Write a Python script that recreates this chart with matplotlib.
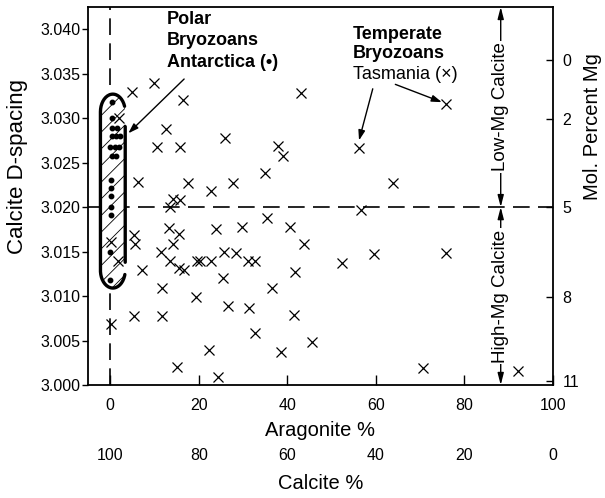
import numpy as np
import matplotlib
matplotlib.use("Agg")
import matplotlib.pyplot as plt

plt.rcParams['font.family'] = ['Liberation Sans', 'DejaVu Sans']
plt.rcParams['hatch.linewidth'] = 0.6

# polar bryozoans, Antarctica (dots)
polar_aragonite = [0.5, 0.4, 0.5, 1.5, 0.4, 1.3, 2.3, 0.0, 1.0, 1.9,
                   0.4, 1.3, 0.2, 0.2, 0.2, 0.2, 0.2, 0.0, 0.0]
polar_dspacing = [3.0318, 3.0300, 3.0289, 3.0289, 3.0280, 3.0280, 3.0280,
                  3.0268, 3.0268, 3.0268, 3.0258, 3.0258, 3.0230, 3.0222,
                  3.0213, 3.0200, 3.0191, 3.0150, 3.0118]

# temperate bryozoans, Tasmania (crosses)
temp_aragonite = [4.9, 9.8, 16.4, 43.2, 1.9, 12.6, 25.9, 10.5, 15.8, 37.8,
                  39.0, 34.9, 6.2, 17.6, 27.8, 22.7, 13.5, 14.3, 15.8, 35.5,
                  23.9, 29.7, 40.5, 13.3, 15.6, 5.3, 5.5, 14.3, 43.8, 0.3,
                  11.5, 25.7, 28.5, 1.7, 13.5, 15.6, 16.7, 19.5, 20.4, 22.7,
                  31.1, 32.7, 7.1, 41.7, 25.4, 11.8, 36.6, 19.3, 26.5, 31.3,
                  5.3, 11.6, 41.5, 0.2, 32.7, 45.6, 22.3, 38.5, 15.2, 24.3,
                  75.8, 56.1, 63.8, 56.7, 52.4, 59.5, 75.8, 70.7, 92.1]
temp_dspacing = [3.0329, 3.0339, 3.0320, 3.0328, 3.0300, 3.0288, 3.0278,
                 3.0268, 3.0268, 3.0269, 3.0258, 3.0238, 3.0228, 3.0227,
                 3.0227, 3.0218, 3.0200, 3.0209, 3.0208, 3.0188, 3.0175,
                 3.0178, 3.0178, 3.0177, 3.0170, 3.0169, 3.0159, 3.0159,
                 3.0158, 3.0161, 3.0150, 3.0150, 3.0148, 3.0139, 3.0139,
                 3.0131, 3.0129, 3.0139, 3.0139, 3.0139, 3.0139, 3.0139,
                 3.0129, 3.0127, 3.0120, 3.0109, 3.0109, 3.0099, 3.0089,
                 3.0087, 3.0078, 3.0078, 3.0079, 3.0069, 3.0059, 3.0048,
                 3.0039, 3.0037, 3.0020, 3.0009, 3.0316, 3.0267, 3.0227,
                 3.0197, 3.0137, 3.0147, 3.0148, 3.0019, 3.0016]

d_ticks = [3.000, 3.005, 3.010, 3.015, 3.020, 3.025, 3.030, 3.035, 3.040]
arag_ticks = [0, 20, 40, 60, 80, 100]
calc_ticks = [100, 80, 60, 40, 20, 0]
mg_labels = ['0', '2', '5', '8', '11']
mg_dspacing = [3.0365, 3.0299, 3.0200, 3.0099, 3.0005]

mg_boundary = 3.020   # low-Mg / high-Mg calcite boundary
split_x = 88.2        # where the Low/High-Mg arrows are drawn

fig = plt.figure(figsize=(6.05, 4.98), dpi=100)
ax = fig.add_axes([0.1455, 0.2269, 0.7685, 0.7591])
ax.set_xlim(-5, 100)
ax.set_ylim(3.000, 3.0425)

for s in ax.spines.values():
    s.set_linewidth(1.3)

# dashed guide lines
ax.axvline(0, color='k', lw=1.2, dashes=(10, 5), zorder=1)
ax.axhline(mg_boundary, color='k', lw=1.2, dashes=(10, 5), zorder=1)

# hatched outline round the polar samples
ac, hw = 0.6, 2.8
top = max(polar_dspacing) + 0.0009
bot = min(polar_dspacing) - 0.0009
cap = 0.002
t = np.linspace(0, np.pi, 40)
top_x = ac + hw * np.cos(t)
top_y = top - cap + cap * np.sin(t)
left_y = np.linspace(top - cap, bot + cap, 60)
left_x = np.full_like(left_y, ac - hw)
bot_x = ac - hw * np.cos(t)
bot_y = bot + cap - cap * np.sin(t)
right_y = np.linspace(bot + cap, top - cap, 120)
right_x = np.full_like(right_y, ac + hw)
ox = np.concatenate([top_x, left_x, bot_x, right_x])
oy = np.concatenate([top_y, left_y, bot_y, right_y])
ax.fill(ox, oy, facecolor='white', edgecolor='k', linewidth=0,
        hatch='//', zorder=2)
lx = ox.copy()
gap = ((ox > ac + hw * 0.8) & (oy > 3.0291) & (oy < 3.0312)) | \
      ((ox > ac + hw * 0.5) & (oy > 3.0125) & (oy < 3.0137))
lx[gap] = np.nan
ax.plot(lx, oy, color='k', lw=2.4, zorder=3, solid_capstyle='round')

ax.plot(polar_aragonite, polar_dspacing, 'o', color='k', ms=3.2,
        zorder=4, linestyle='none')
ax.plot(temp_aragonite, temp_dspacing, 'x', color='k', ms=7, mew=0.9,
        zorder=4, linestyle='none')

# low / high Mg calcite arrows
arr = dict(arrowstyle='<|-|>,head_length=0.7,head_width=0.18', color='k',
           lw=1.0, shrinkA=0, shrinkB=0)
ax.annotate('', xy=(split_x, 3.0425), xytext=(split_x, mg_boundary),
            arrowprops=arr, zorder=3)
ax.annotate('', xy=(split_x, mg_boundary), xytext=(split_x, 3.000),
            arrowprops=arr, zorder=3)
ax.text(split_x, (3.0425 + mg_boundary) / 2, 'Low-Mg Calcite', rotation=90,
        ha='center', va='center', fontsize=13.5,
        bbox=dict(fc='white', ec='none', pad=1), zorder=4)
ax.text(split_x, (3.000 + mg_boundary) / 2, 'High-Mg Calcite', rotation=90,
        ha='center', va='center', fontsize=13.5,
        bbox=dict(fc='white', ec='none', pad=1), zorder=4)

# labels with arrows
ax.text(12.8, 3.0421, 'Polar\nBryozoans\nAntarctica (•)', fontsize=13,
        fontweight='bold', ha='left', va='top', linespacing=1.35)
ax.annotate('', xy=(4.1, 3.0283), xytext=(16.7, 3.0344),
            arrowprops=dict(arrowstyle='-|>,head_length=0.6,head_width=0.2',
                            color='k', lw=1.0, shrinkA=0, shrinkB=0))
ax.text(54.8, 3.0404, 'Temperate\nBryozoans', fontsize=13,
        fontweight='bold', ha='left', va='top', linespacing=1.2)
ax.text(54.8, 3.0349, 'Tasmania (×)', fontsize=13, ha='left', va='center')
ax.annotate('', xy=(56.2, 3.0275), xytext=(59.3, 3.0333),
            arrowprops=dict(arrowstyle='-|>,head_length=0.6,head_width=0.2',
                            color='k', lw=1.0, shrinkA=0, shrinkB=0))
ax.annotate('', xy=(74.9, 3.0318), xytext=(64.4, 3.0338),
            arrowprops=dict(arrowstyle='-|>,head_length=0.6,head_width=0.2',
                            color='k', lw=1.0, shrinkA=0, shrinkB=0))

# axes, ticks and labels
ax.set_yticks(d_ticks)
ax.set_yticklabels([f'{v:.3f}' for v in d_ticks])
ax.set_xticks(arag_ticks)
ax.tick_params(axis='y', direction='out', length=4, width=1, labelsize=11.5,
               pad=1.5)
ax.tick_params(axis='x', direction='in', length=7, width=1, labelsize=11.5,
               pad=9)
ax.set_xlabel('Aragonite %', fontsize=14.5, labelpad=6)
ax.set_ylabel('Calcite D-spacing', fontsize=16)
ax.yaxis.set_label_coords(-0.129, 0.579)

ax2 = ax.twinx()
ax2.set_ylim(ax.get_ylim())
ax2.set_yticks(mg_dspacing)
ax2.set_yticklabels(mg_labels)
ax2.tick_params(axis='y', direction='in', length=5, width=1, labelsize=11.5,
                pad=7)
ax2.set_ylabel('Mol. Percent Mg', fontsize=14.5)
ax2.yaxis.set_label_coords(1.0645, 0.683)
for s in ax2.spines.values():
    s.set_visible(False)

sec = ax.secondary_xaxis(-0.155, functions=(lambda a: 100 - a,
                                             lambda c: 100 - c))
sec.set_xticks(calc_ticks)
sec.spines['bottom'].set_visible(False)
sec.tick_params(axis='x', length=0, labelsize=11.5, pad=3)
sec.set_xlabel('Calcite %', fontsize=14.5, labelpad=8)

fig.savefig('out.png', dpi=100)
